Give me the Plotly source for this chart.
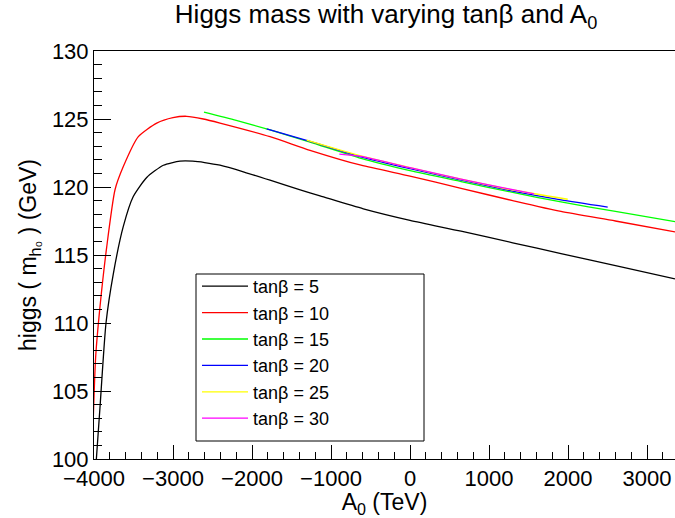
import plotly.graph_objects as go

# ---- data ----
labels = ["tanβ = 5", "tanβ = 10", "tanβ = 15", "tanβ = 20", "tanβ = 25", "tanβ = 30"]
colors = ["#000000", "#ff0000", "#00ff00", "#0000ff", "#ffff00", "#ff00ff"]

a0_tb5 = [-3975, -3924, -3848, -3756, -3629, -3503, -3333, -3122, -2911, -2750, -2600, -2405,
          -2100, -1772, -1400, -1139, -591, 0, 646, 1300, 1911, 2658, 3354]
mh_tb5 = [99.6, 103.8, 110.0, 113.6, 117.1, 119.3, 120.7, 121.6, 121.9, 121.9, 121.8, 121.6,
          121.1, 120.5, 119.8, 119.35, 118.4, 117.55, 116.75, 115.9, 115.1, 114.15, 113.25]

a0_tb10 = [-4010, -3979, -3924, -3839, -3734, -3629, -3439, -3206, -3000, -2827, -2616, -2405,
           -1772, -1266, -620, 0, 646, 1300, 1911, 2600, 3354]
mh_tb10 = [102.8, 107.5, 111.2, 115.6, 119.8, 121.5, 123.7, 124.7, 125.1, 125.2, 125.0, 124.7,
           123.7, 122.7, 121.6, 120.8, 119.9, 119.0, 118.2, 117.5, 116.7]

a0_tb15 = [-2608, -2200, -1772, -1266, -620, 0, 646, 1300, 1911, 2600, 3354]
mh_tb15 = [125.5, 124.9, 124.2, 123.3, 122.1, 121.2, 120.4, 119.6, 118.9, 118.2, 117.45]

a0_tb20 = [-1814, -1266, -620, 0, 646, 1300, 1911, 2502]
mh_tb20 = [124.27, 123.35, 122.22, 121.35, 120.5, 119.7, 119.05, 118.52]

a0_tb25 = [-1308, -620, 0, 646, 1300, 1996]
mh_tb25 = [123.45, 122.28, 121.42, 120.57, 119.78, 119.1]

a0_tb30 = [-895, -620, 0, 646, 1300, 1570]
mh_tb30 = [122.42, 122.25, 121.42, 120.58, 119.8, 119.5]

series_x = [a0_tb5, a0_tb10, a0_tb15, a0_tb20, a0_tb25, a0_tb30]
series_y = [mh_tb5, mh_tb10, mh_tb15, mh_tb20, mh_tb25, mh_tb30]

FONT = "Liberation Sans, Arial, sans-serif"

# plot-area geometry in pixels (for paper-coordinate placement)
W, H = 675, 518
L, R, T, B = 94, 0, 51, 59
PW, PH = W - L - R, H - T - B


def px_x(x):
    return (x - L) / PW


def px_y(y):
    return (H - B - y) / PH


fig = go.Figure()
for i, (xs, ys) in enumerate(zip(series_x, series_y)):
    fig.add_trace(go.Scatter(
        x=xs, y=ys, mode="lines", name=labels[i],
        line=dict(color=colors[i], width=1.3, shape="spline", smoothing=0.6),
        legendgroup=f"g{i}",
    ))

# legend frame
fig.add_shape(type="rect", xref="paper", yref="paper",
              x0=px_x(196), x1=px_x(424), y0=px_y(441), y1=px_y(274),
              line=dict(color="black", width=1), fillcolor="white", layer="above")

fig.update_layout(
    width=W, height=H,
    margin=dict(l=L, r=R, t=T, b=B),
    paper_bgcolor="white", plot_bgcolor="white",
    font=dict(family=FONT, color="black"),
    showlegend=True,
    title=dict(
        text="Higgs mass with varying tanβ and A<sub>0</sub>",
        x=0.572, xanchor="center", y=0.99, yanchor="top",
        font=dict(family=FONT, size=26, color="black"),
    ),
    legend=dict(
        x=px_x(197), y=px_y(268), xanchor="left", yanchor="top",
        bgcolor="rgba(0,0,0,0)", borderwidth=0,
        font=dict(family=FONT, size=18, color="black"),
        tracegroupgap=0, itemwidth=46,
    ),
    xaxis=dict(
        range=[-4000, 3354], showgrid=False, zeroline=False,
        showline=True, linecolor="black", linewidth=1, mirror=True,
        ticks="inside", ticklen=14, tickcolor="black", tickwidth=1,
        tick0=-4000, dtick=1000,
        minor=dict(ticks="inside", ticklen=7, dtick=200, tickcolor="black", showgrid=False),
        tickfont=dict(family=FONT, size=22, color="black"),
        title=dict(text="A<sub>0</sub> (TeV)", font=dict(family=FONT, size=23, color="black"), standoff=0),
    ),
    yaxis=dict(
        range=[100, 130], showgrid=False, zeroline=False,
        showline=True, linecolor="black", linewidth=1, mirror=False,
        ticks="inside", ticklen=17, tickcolor="black", tickwidth=1,
        tick0=100, dtick=5,
        minor=dict(ticks="inside", ticklen=8, dtick=1, tickcolor="black", showgrid=False),
        tickfont=dict(family=FONT, size=22, color="black"),
        title=dict(text="higgs ( m<sub>h₀</sub> ) (GeV)", font=dict(family=FONT, size=23, color="black"), standoff=8),
    ),
)

fig.write_html("out.html")
